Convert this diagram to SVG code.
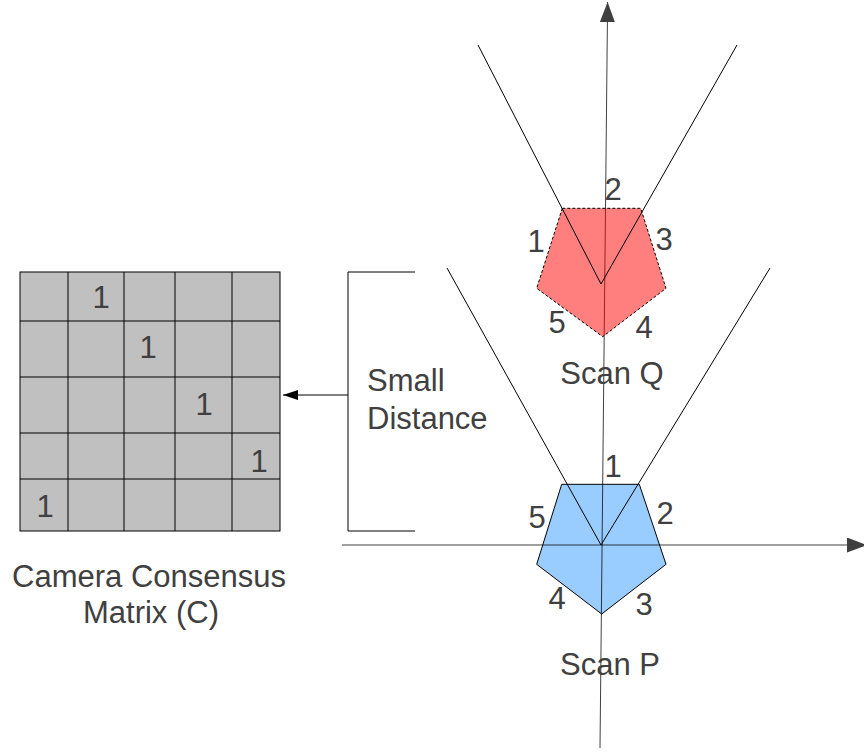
<svg xmlns="http://www.w3.org/2000/svg" width="864" height="753" viewBox="0 0 864 753">
<defs>
<style>
.t{font-size:31px;fill:#404040}
.mid{text-anchor:middle}
.cell{fill:#C0C0C0;stroke:#000;stroke-width:1}
.ln{stroke:#000;stroke-width:1;fill:none}
.ax{stroke:#000;stroke-width:1;fill:none;opacity:0.75}
</style>
<marker id="ah" markerUnits="userSpaceOnUse" viewBox="0 0 20 15" refX="20" refY="7.5" markerWidth="20" markerHeight="15" orient="auto"><path d="M0,0 L20,7.5 L0,15 z" fill="#000"/></marker>
<marker id="ahs" markerUnits="userSpaceOnUse" viewBox="0 0 15 10" refX="15" refY="5" markerWidth="15" markerHeight="10" orient="auto"><path d="M0,0 L15,5 L0,10 z" fill="#000"/></marker>
</defs>
<rect width="864" height="753" fill="#fff"/>

<g id="matrix">
<rect class="cell" x="20" y="272" width="260" height="259"/>
<path class="ln" d="M68,272V531M124,272V531M175,272V531M232,272V531M20,321H280M20,377H280M20,433H280M20,479H280"/>
<g font-family="Liberation Sans" class="t mid">
<text x="101" y="308">1</text>
<text x="148" y="358">1</text>
<text x="204" y="415">1</text>
<text x="259" y="472">1</text>
<text x="45" y="517">1</text>
<text x="149" y="587">Camera Consensus</text>
<text x="151" y="623">Matrix (C)</text>
</g>
</g>

<g id="scanP">
<polygon points="561.7,484.3 639.3,484.3 666,564.3 601.7,614 536.7,564.3" fill="#99CCFF" stroke="#000" stroke-width="1"/>
</g>

<g id="connectors">
<line class="ax" x1="600" y1="748" x2="607.6" y2="2" marker-end="url(#ah)"/>
<line class="ax" x1="342" y1="545" x2="867" y2="545" marker-end="url(#ah)"/>
<path class="ln" d="M415,272H348V531H415"/>
<line class="ln" x1="348" y1="395" x2="283" y2="395" marker-end="url(#ahs)"/>
</g>

<g id="scanQ">
<polygon points="562.3,208.3 640.7,208.3 666,288.3 602.7,336.7 536.7,288.3" fill="#FF0000" fill-opacity="0.5" stroke="#000" stroke-width="1" stroke-dasharray="3,2"/>
<path class="ln" d="M478,45L601,284L737,45"/>
<g font-family="Liberation Sans" class="t mid">
<text x="613" y="200">2</text>
<text x="536" y="252">1</text>
<text x="664" y="250">3</text>
<text x="557" y="333">5</text>
<text x="644" y="338">4</text>
<text x="612" y="384">Scan Q</text>
</g>
</g>

<g id="scanPlabels">
<path class="ln" d="M447,268L601,545L770,268"/>
<g font-family="Liberation Sans" class="t mid">
<text x="613" y="477">1</text>
<text x="537" y="528">5</text>
<text x="665" y="524">2</text>
<text x="557" y="609">4</text>
<text x="644" y="615">3</text>
<text x="610" y="675">Scan P</text>
</g>
</g>

<g id="distance" font-family="Liberation Sans" class="t">
<text x="367" y="391">Small</text>
<text x="367" y="429">Distance</text>
</g>
</svg>
